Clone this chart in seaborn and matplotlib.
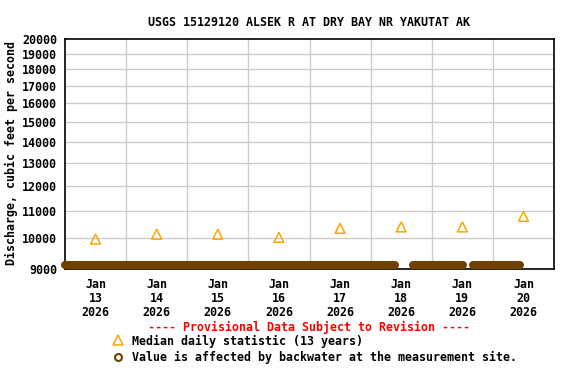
import pandas as pd
import matplotlib
matplotlib.use('Agg')
import matplotlib.pyplot as plt
import matplotlib.dates as mdates
from matplotlib.lines import Line2D
from matplotlib.ticker import FixedLocator, NullFormatter, NullLocator
import seaborn as sns

median_days = ['2026-01-13 12:00', '2026-01-14 12:00', '2026-01-15 12:00', '2026-01-16 12:00',
               '2026-01-17 12:00', '2026-01-18 12:00', '2026-01-19 12:00', '2026-01-20 12:00']
median_q = [9970, 10140, 10140, 10030, 10350, 10400, 10400, 10790]

# runs of backwater-affected readings (start, end), all at the bottom of the scale
bw_start = ['2026-01-13 00:00', '2026-01-18 16:30', '2026-01-19 16:15']
bw_end = ['2026-01-18 09:30', '2026-01-19 12:15', '2026-01-20 10:45']
bw_q = 9120

y_ticks = [9000, 10000, 11000, 12000, 13000, 14000, 15000, 16000, 17000, 18000, 19000, 20000]
x_ticks = median_days
x_labels = ['Jan\n13\n2026', 'Jan\n14\n2026', 'Jan\n15\n2026', 'Jan\n16\n2026',
            'Jan\n17\n2026', 'Jan\n18\n2026', 'Jan\n19\n2026', 'Jan\n20\n2026']

title = 'USGS 15129120 ALSEK R AT DRY BAY NR YAKUTAT AK'
ylabel = 'Discharge, cubic feet per second'

ORANGE = '#FFA500'
BROWN = '#6F4000'
FONT = dict(family='DejaVu Sans Mono', weight='bold', size=8.4)

sns.set_style('white')
plt.rcParams['font.family'] = ['DejaVu Sans Mono', 'DejaVu Sans']
plt.rcParams['text.color'] = 'black'
plt.rcParams['xtick.color'] = 'black'
plt.rcParams['ytick.color'] = 'black'
plt.rcParams['xtick.labelcolor'] = 'black'
plt.rcParams['ytick.labelcolor'] = 'black'

df_med = pd.DataFrame({'time': pd.to_datetime(median_days), 'q': median_q})
rows = []
for i, (s, e) in enumerate(zip(bw_start, bw_end)):
    rows.append({'seg': i, 'time': pd.Timestamp(s), 'q': bw_q})
    rows.append({'seg': i, 'time': pd.Timestamp(e), 'q': bw_q})
df_bw = pd.DataFrame(rows)

fig = plt.figure(figsize=(5.76, 3.84), dpi=100)
ax = fig.add_axes([65 / 576, 1 - 268.5 / 384, 489 / 576, 229.5 / 384])

ax.set_yscale('log')
ax.set_ylim(9000, 20000)
ax.set_xlim(pd.Timestamp('2026-01-13 00:00'), pd.Timestamp('2026-01-21 00:00'))

# grid: horizontal at each 1000, vertical at midnight
for y in y_ticks[1:-1]:
    ax.axhline(y, color='#CCCCCC', lw=1, zorder=0)
for d in pd.date_range('2026-01-14', '2026-01-20', freq='D'):
    ax.axvline(d, color='#CCCCCC', lw=1, zorder=0)

sns.lineplot(data=df_bw, x='time', y='q', units='seg', estimator=None, color=BROWN,
             lw=5.8, solid_capstyle='round', clip_on=False, zorder=3, ax=ax)
sns.scatterplot(data=df_med, x='time', y='q', marker='^', s=50, facecolor='none',
                edgecolor=ORANGE, linewidth=1.1, zorder=4, ax=ax)

ax.yaxis.set_major_locator(FixedLocator(y_ticks))
ax.yaxis.set_minor_locator(NullLocator())
ax.yaxis.set_minor_formatter(NullFormatter())
ax.set_yticklabels([str(v) for v in y_ticks], color='black', **FONT)
ax.set_xticks(mdates.date2num(pd.to_datetime(x_ticks)))
ax.set_xticklabels(x_labels, linespacing=1.1, color='black', **FONT)
ax.tick_params(axis='y', length=0, pad=5.5)
ax.tick_params(axis='x', length=0, pad=6.5)
ax.set_xlabel('')
ax.set_ylabel('')
for sp in ax.spines.values():
    sp.set_color('black')
    sp.set_linewidth(1.2)

fig.text(308.5 / 576, 1 - 22.8 / 384, title, ha='center', va='center', color='black', **FONT)
fig.text(11 / 576, 1 - 153 / 384, ylabel, ha='center', va='center', rotation=90,
         color='black', **FONT)
fig.text(308.5 / 576, 1 - 327 / 384, '---- Provisional Data Subject to Revision ----',
         ha='center', va='center', color='#FF0000', **FONT)

# legend entries
fig.add_artist(Line2D([117.7 / 576], [1 - 340 / 384], marker='^', ms=7.2, mfc='none',
                      mec=ORANGE, mew=1.1, ls='none', transform=fig.transFigure))
fig.text(131.5 / 576, 1 - 341 / 384, 'Median daily statistic (13 years)',
         ha='left', va='center', color='black', **FONT)
fig.add_artist(Line2D([117.7 / 576], [1 - 356.5 / 384], marker='o', ms=5.0, mfc='white',
                      mec=BROWN, mew=1.5, ls='none', transform=fig.transFigure))
fig.text(131.5 / 576, 1 - 357 / 384, 'Value is affected by backwater at the measurement site.',
         ha='left', va='center', color='black', **FONT)

fig.savefig('out.png', dpi=100)
